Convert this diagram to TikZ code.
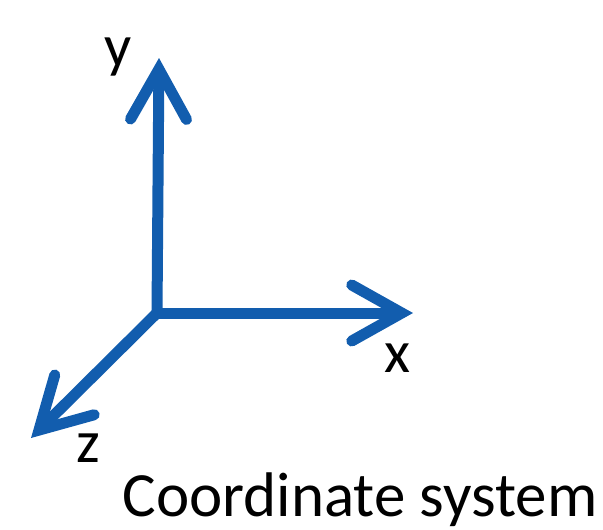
\documentclass[tikz,border=0pt]{standalone}
\usepackage{fontspec}
\setmainfont{Carlito}
\usetikzlibrary{arrows.meta}
\definecolor{axis-blue}{HTML}{125DAE}

\begin{document}
\begin{tikzpicture}[x=1pt, y=-1pt,
    axis/.style={axis-blue, line width=11pt,
      -{Straight Barb[length=50pt, width=56pt, line cap=round, line join=miter]}},
    label/.style={font=\fontsize{60}{60}\selectfont, inner sep=0pt}]

    \useasboundingbox (0,0) rectangle (603,530);

    % Origem e pontas dos eixos
    \coordinate (origin) at (157,313);
    \coordinate (tip_y) at (159,58);
    \coordinate (tip_x) at (413,313);
    \coordinate (tip_z) at (31,438);

    % Eixos
    \draw[axis] (origin) -- (tip_y);
    \draw[axis] (origin) -- (tip_x);
    \draw[axis] (origin) -- (tip_z);

    % Rótulos dos eixos
    \node[label] (lbl_y) at (118,57) {y};
    \node[label] (lbl_x) at (397,358) {x};
    \node[label] (lbl_z) at (88,448) {z};

    % Título
    \node[label, font=\fontsize{63}{63}\selectfont, anchor=base] (title) at (360,516) {Coordinate system};

\end{tikzpicture}
\end{document}
